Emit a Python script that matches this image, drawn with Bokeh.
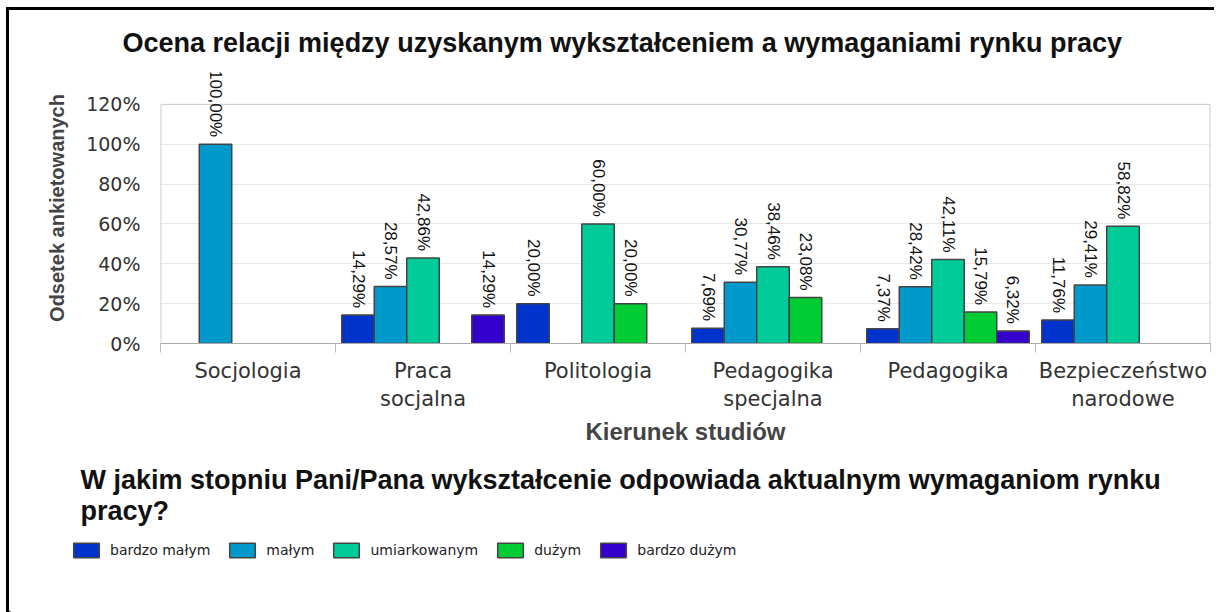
import math
from bokeh.plotting import figure
from bokeh.layouts import column
from bokeh.models import (Range1d, ColumnDataSource, LabelSet, Label, Legend, LegendItem,
                          FixedTicker, PrintfTickFormatter, Title, LinearAxis, Span, Plot)
from bokeh.core.properties import value
from bokeh.embed import file_html
from bokeh.resources import INLINE

# ---------------- data ----------------
categories = ["Socjologia", "Praca socjalna", "Politologia", "Pedagogika specjalna",
              "Pedagogika", "Bezpieczeństwo narodowe"]
category_labels = ["Socjologia", "Praca\nsocjalna", "Politologia", "Pedagogika\nspecjalna",
                   "Pedagogika", "Bezpieczeństwo\nnarodowe"]
series = ["bardzo małym", "małym", "umiarkowanym", "dużym", "bardzo dużym"]
bardzo_malym = [0, 14.29, 20.00, 7.69, 7.37, 11.76]
malym = [100.00, 28.57, 0, 30.77, 28.42, 29.41]
umiarkowanym = [0, 42.86, 60.00, 38.46, 42.11, 58.82]
duzym = [0, 0, 20.00, 23.08, 15.79, 0]
bardzo_duzym = [0, 14.29, 0, 0, 6.32, 0]
colors = ["#0033cc", "#0099cc", "#00cc99", "#00cc33", "#3300cc"]
y_ticks = [0, 20, 40, 60, 80, 100, 120]

title_text = "Ocena relacji między uzyskanym wykształceniem a wymaganiami rynku pracy"
x_label = "Kierunek studiów"
y_label = "Odsetek ankietowanych"
legend_title_1 = "W jakim stopniu Pani/Pana wykształcenie odpowiada aktualnym wymaganiom rynku"
legend_title_2 = "pracy?"

values = [bardzo_malym, malym, umiarkowanym, duzym, bardzo_duzym]
nc = len(categories)
y_top = y_ticks[-1]

# ---------------- main chart ----------------
W, H1 = 1205, 447
p = figure(x_range=Range1d(0, nc), y_range=Range1d(0, 136),
           width=W, height=H1, output_backend="svg", toolbar_location=None,
           x_axis_location=None,
           min_border_left=151, min_border_right=4, min_border_top=62, min_border_bottom=114)
p.outline_line_color = None
p.background_fill_color = "white"
p.border_fill_color = "white"
p.xgrid.visible = False

# y axis
p.yaxis.ticker = FixedTicker(ticks=y_ticks)
p.yaxis.formatter = PrintfTickFormatter(format="%d%%")
p.yaxis.axis_line_color = None
p.yaxis.major_tick_line_color = None
p.yaxis.minor_tick_line_color = None
p.yaxis.major_label_standoff = 14
p.yaxis.major_label_text_font = "DejaVu Sans"
p.yaxis.major_label_text_font_size = "19px"
p.yaxis.major_label_text_color = "#333333"
p.yaxis.axis_label = y_label
p.yaxis.axis_label_text_font = "Liberation Sans"
p.yaxis.axis_label_text_font_style = "bold"
p.yaxis.axis_label_text_font_size = "20px"
p.yaxis.axis_label_text_color = "#444444"
p.yaxis.axis_label_standoff = 15
p.ygrid.ticker = FixedTicker(ticks=y_ticks[:-1])
p.ygrid.grid_line_color = "#e8e8e8"

# plot-area border (top at 120 %, sides)
p.add_layout(Span(location=y_top, dimension="width", line_color="#cccccc", line_width=1))
p.segment(x0=[0, nc], y0=[0, 0], x1=[0, nc], y1=[y_top, y_top],
          line_color="#cccccc", line_width=2)

# x axis: ticks at category boundaries, labels at category centres
tick_axis = LinearAxis(ticker=FixedTicker(ticks=list(range(nc + 1))),
                       major_label_overrides={k: "" for k in range(nc + 1)},
                       major_tick_out=9, major_tick_in=0, axis_line_color="#aaaaaa",
                       major_tick_line_color="#bbbbbb", minor_tick_line_color=None,
                       major_label_text_font_size="1px", major_label_standoff=0)
p.add_layout(tick_axis, "below")
centres = [k + 0.5 for k in range(nc)]
cat_axis = LinearAxis(ticker=FixedTicker(ticks=centres),
                      major_label_overrides={c: lab for c, lab in zip(centres, category_labels)},
                      axis_line_color=None, major_tick_line_color=None,
                      minor_tick_line_color=None, major_label_standoff=0,
                      major_label_text_font="DejaVu Sans", major_label_text_font_size="21px",
                      major_label_text_color="#333333",
                      axis_label=x_label, axis_label_text_font="Liberation Sans",
                      axis_label_text_font_style="bold", axis_label_text_font_size="24px",
                      axis_label_text_color="#444444", axis_label_standoff=4)
p.add_layout(cat_axis, "below")

# bars
n = len(series)
bw = 0.1857
for i, (name, vals, col) in enumerate(zip(series, values, colors)):
    off = (i - (n - 1) / 2) * bw
    xs = [k + 0.5 + off for k, v in enumerate(vals) if v > 0]
    tops = [v for v in vals if v > 0]
    lbls = [("%.2f" % v).replace(".", ",") + "%" for v in tops]
    src = ColumnDataSource(dict(x=xs, top=tops, lbl=lbls))
    p.vbar(x="x", top="top", bottom=0, width=bw,
           source=src, fill_color=col, line_color="#444444", line_width=1.5)
    labels = LabelSet(x="x", y="top", text="lbl", source=src,
                      angle=-math.pi / 2, text_align="right", text_baseline="middle",
                      y_offset=7, text_font=value("Liberation Sans"), text_font_size="17px",
                      text_color="#111111")
    p.add_layout(labels)

p.title = Title(text=title_text, align="left", offset=-38, standoff=30,
                text_font="Liberation Sans", text_font_style="bold", text_font_size="27px",
                text_color="#111111")

# ---------------- legend area ----------------
H2 = 155
q = figure(x_range=Range1d(0, W), y_range=Range1d(0, H2), width=W, height=H2,
           output_backend="svg", toolbar_location=None,
           x_axis_location=None, y_axis_location=None, min_border=0)
q.outline_line_color = None
q.xgrid.visible = False
q.ygrid.visible = False

if "frame_align" in Plot.properties():
    p.frame_align = False
    q.frame_align = False

q.add_layout(Label(x=71, y=133, text=legend_title_1, text_baseline="middle",
                   text_font="Liberation Sans", text_font_style="bold",
                   text_font_size="27px", text_color="#111111"))
q.add_layout(Label(x=71, y=102, text=legend_title_2, text_baseline="middle",
                   text_font="Liberation Sans", text_font_style="bold",
                   text_font_size="27px", text_color="#111111"))

items = []
for name, col in zip(series, colors):
    # a single off-view placeholder so that the legend swatch has colours to draw
    r = q.vbar(x=[-100], top=[1], width=1, fill_color=col, line_color="#444444", line_width=1.5)
    items.append(LegendItem(label=name, renderers=[r]))
legend = Legend(items=items, orientation="horizontal", location=(61, 53),
                glyph_width=32, glyph_height=18, label_standoff=8, spacing=16,
                padding=0, margin=0, border_line_color=None, background_fill_alpha=0,
                label_text_font="DejaVu Sans", label_text_font_size="14px",
                label_text_color="#222222", label_height=18)
q.add_layout(legend, "center")

layout = column(p, q, spacing=0,
                styles={"border-top": "3px solid black", "border-left": "3px solid black",
                        "margin-left": "6px", "margin-top": "7px"})

open("out.html", "w").write(file_html(layout, INLINE))
